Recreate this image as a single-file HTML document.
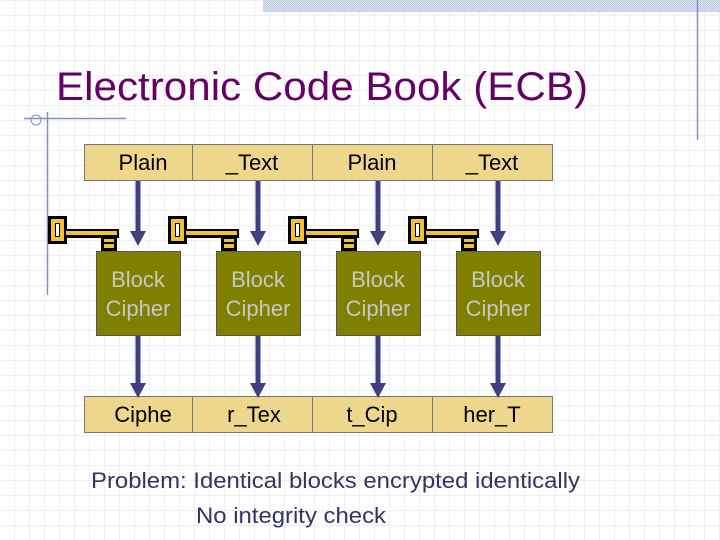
<!DOCTYPE html>
<html><head><style>
body{margin:0;width:720px;height:540px;overflow:hidden;background:#fff;
background-image:repeating-linear-gradient(90deg,transparent 0 14px,#efefef 14px 15px),repeating-linear-gradient(0deg,transparent 0 14px,#efefef 14px 15px);}
</style></head><body>
<svg width="720" height="540" style="position:absolute;left:0;top:0" font-family="Liberation Sans, sans-serif">
<defs>
<pattern id="d" width="2" height="2" patternUnits="userSpaceOnUse"><rect width="2" height="2" fill="#dfe6f2"/><rect width="1" height="1" fill="#b8c6e0"/><rect x="1" y="1" width="1" height="1" fill="#b8c6e0"/></pattern>
<g id="key">
<rect x="48" y="216" width="19" height="28" fill="#000"/>
<rect x="51" y="219" width="13" height="22" fill="#f2c230"/>
<rect x="55" y="223" width="5" height="14" fill="#000"/>
<rect x="56" y="224" width="3" height="12" fill="#fff"/>
<rect x="66" y="229" width="53" height="9" fill="#000"/>
<rect x="66" y="231" width="51" height="4" fill="#f2c230"/>
<rect x="101" y="236" width="16" height="15" fill="#000"/>
<rect x="104" y="239" width="10" height="3" fill="#f2c230"/>
<rect x="104" y="244" width="10" height="4" fill="#f2c230"/>
</g>
<g id="arr"><rect x="-2.5" y="0" width="5" height="52" fill="#404080"/><polygon points="-8,50 8,50 0,65" fill="#404080"/></g>
</defs>
<rect x="263" y="0" width="457" height="12" fill="url(#d)"/>
<line x1="697.5" y1="0" x2="697.5" y2="140" stroke="#8090c0" stroke-width="1.5"/>
<line x1="47.5" y1="112" x2="47.5" y2="295" stroke="#8090c0" stroke-width="1.5"/>
<line x1="24" y1="118.5" x2="126" y2="118.5" stroke="#8090c0" stroke-width="1.5"/>
<circle cx="36" cy="120" r="5" fill="none" stroke="#8090c0"/>
<text x="56" y="100" font-size="40" fill="#660066" textLength="532" lengthAdjust="spacingAndGlyphs">Electronic Code Book (ECB)</text>
<g fill="#eed68c" stroke="#777" stroke-width="1">
<rect x="84.5" y="144.5" width="108" height="36"/><rect x="192.5" y="144.5" width="120" height="36"/><rect x="312.5" y="144.5" width="120" height="36"/><rect x="432.5" y="144.5" width="120" height="36"/>
<rect x="84.5" y="396.5" width="108" height="36"/><rect x="192.5" y="396.5" width="120" height="36"/><rect x="312.5" y="396.5" width="120" height="36"/><rect x="432.5" y="396.5" width="120" height="36"/>
</g>
<g font-size="22" fill="#000" text-anchor="middle">
<text x="143" y="170">Plain</text><text x="252" y="170">_Text</text><text x="372" y="170">Plain</text><text x="492" y="170">_Text</text>
<text x="143" y="422">Ciphe</text><text x="254" y="422">r_Tex</text><text x="372" y="422">t_Cip</text><text x="492" y="422">her_T</text>
</g>
<use href="#arr" transform="translate(138,181)"/><use href="#arr" transform="translate(258,181)"/><use href="#arr" transform="translate(378,181)"/><use href="#arr" transform="translate(498,181)"/>
<use href="#arr" transform="translate(138,333)"/><use href="#arr" transform="translate(258,333)"/><use href="#arr" transform="translate(378,333)"/><use href="#arr" transform="translate(498,333)"/>
<use href="#key"/><use href="#key" transform="translate(120,0)"/><use href="#key" transform="translate(240,0)"/><use href="#key" transform="translate(360,0)"/>
<g fill="#808000" stroke="#555" stroke-width="1">
<rect x="96.5" y="251.5" width="84" height="84"/><rect x="216.5" y="251.5" width="84" height="84"/><rect x="336.5" y="251.5" width="84" height="84"/><rect x="456.5" y="251.5" width="84" height="84"/>
</g>
<g font-size="22" fill="#c8c8c8" text-anchor="middle">
<text x="138" y="287">Block</text><text x="138" y="316">Cipher</text>
<text x="258" y="287">Block</text><text x="258" y="316">Cipher</text>
<text x="378" y="287">Block</text><text x="378" y="316">Cipher</text>
<text x="498" y="287">Block</text><text x="498" y="316">Cipher</text>
</g>
<g font-size="22" fill="#333366">
<text x="91" y="488" textLength="489" lengthAdjust="spacingAndGlyphs">Problem: Identical blocks encrypted identically</text>
<text x="196" y="523" textLength="190" lengthAdjust="spacingAndGlyphs">No integrity check</text>
</g>
</svg>
</body></html>
